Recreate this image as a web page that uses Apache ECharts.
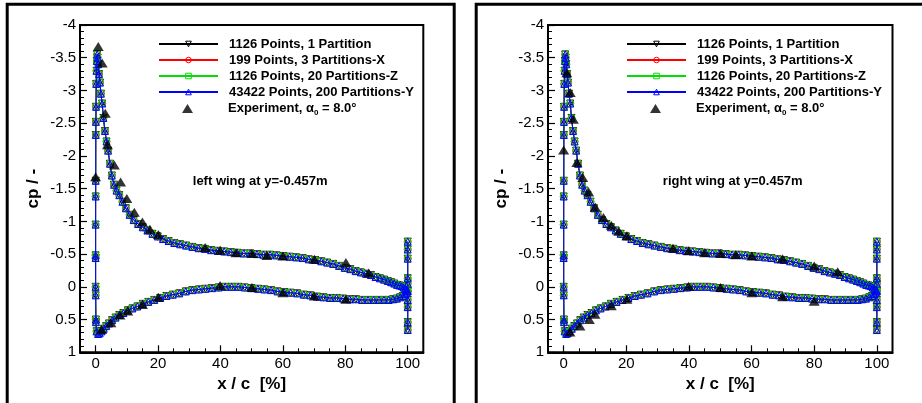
<!DOCTYPE html>
<html><head><meta charset="utf-8">
<script src="https://cdn.jsdelivr.net/npm/echarts@6/dist/echarts.min.js"></script>
<style>html,body{margin:0;padding:0;background:#fff}#c{width:922px;height:403px}</style>
</head><body><div id="c"></div><script>
// ---------- data ----------
const xTickLabels = [0, 20, 40, 60, 80, 100];
const xMinorTicks = [5, 10, 15, 25, 30, 35, 45, 50, 55, 65, 70, 75, 85, 90, 95];
const cfdNames = ['1126 Points, 1 Partition', '199 Points, 3 Partitions-X', '1126 Points, 20 Partitions-Z', '43422 Points, 200 Partitions-Y'];
const cfdColors = ['#000000', '#ff0000', '#00dd00', '#0000ff'];
const cfdSymbols = ['triangle', 'circle', 'rect', 'triangle'];
const cfdRotate = [180, 0, 0, 0];
const expName = 'Experiment';
const panelTitles = ['left wing at y=-0.457m', 'right wing at y=0.457m'];

// blunt trailing edge (x = 100), upper part
const teTopCp = [-0.69, -0.57, -0.43, -0.13, -0.05];
// upper surface, trailing edge -> leading edge
const upperX = [100, 99.6, 99.2, 98.7, 98.1, 97.4, 96.6, 95.7, 94.7, 93.6, 92.4, 91.1, 89.7, 88.2, 86.6, 85, 83.3, 81.6, 79.8, 78, 76.1, 74.2, 72.3, 70.3, 68.3, 66.3, 64.3, 62.2, 60.1, 58, 55.9, 53.8, 51.7, 49.6, 47.5, 45.4, 43.3, 41.2, 39.1, 37, 35, 33, 31, 29, 27.1, 25.2, 23.4, 21.6, 19.9, 18.2, 16.6, 15.1, 13.6, 12.2, 10.9, 9.7, 8.6, 7.6, 6.7, 5.9, 5.2, 4.6, 4.0, 3.5, 3.0, 2.5, 2.1, 1.7, 1.4, 1.1, 0.85, 0.65, 0.5, 0.38, 0.28, 0.2, 0.14, 0.09, 0.05, 0.03, 0.01, 0, 0, 0, 0];
const upperCp = [0.06, 0.04, 0.03, 0.01, -0.01, -0.02, -0.03, -0.05, -0.07, -0.09, -0.11, -0.13, -0.15, -0.18, -0.20, -0.22, -0.24, -0.27, -0.29, -0.32, -0.35, -0.37, -0.39, -0.41, -0.42, -0.44, -0.45, -0.46, -0.47, -0.48, -0.49, -0.49, -0.50, -0.51, -0.51, -0.52, -0.53, -0.54, -0.55, -0.56, -0.58, -0.59, -0.61, -0.63, -0.65, -0.67, -0.70, -0.73, -0.77, -0.81, -0.86, -0.91, -0.96, -1.02, -1.10, -1.20, -1.30, -1.40, -1.47, -1.56, -1.70, -1.88, -2.08, -2.22, -2.38, -2.58, -2.80, -2.95, -3.12, -3.25, -3.40, -3.50, -3.55, -3.45, -3.30, -3.10, -2.75, -2.52, -2.32, -1.62, -1.38, -0.95, -0.48, -0.44, 0.00];
// lower surface, leading edge -> trailing edge
const lowerX = [0.02, 0.08, 0.1, 0.3, 0.8, 1.3, 1.9, 2.6, 3.4, 4.3, 5.3, 6.4, 7.6, 8.9, 10.3, 11.8, 13.4, 15.1, 16.9, 18.8, 20.7, 22.7, 24.7, 26.8, 28.9, 31, 33.1, 35.2, 37.3, 39.4, 41.5, 43.6, 45.7, 47.8, 49.9, 52, 54.1, 56.2, 58.3, 60.4, 62.5, 64.6, 66.7, 68.8, 70.9, 73, 75.1, 77.2, 79.3, 81.4, 83.4, 85.4, 87.3, 89.1, 90.8, 92.4, 93.9, 95.3, 96.5, 97.6, 98.5, 99.2, 99.7, 100];
const lowerCp = [0.13, 0.50, 0.54, 0.68, 0.72, 0.71, 0.68, 0.64, 0.60, 0.56, 0.51, 0.47, 0.43, 0.40, 0.36, 0.33, 0.30, 0.26, 0.23, 0.20, 0.17, 0.14, 0.12, 0.10, 0.07, 0.05, 0.04, 0.03, 0.02, 0.01, 0.00, 0.00, 0.00, 0.01, 0.02, 0.03, 0.04, 0.05, 0.07, 0.08, 0.09, 0.10, 0.12, 0.13, 0.15, 0.16, 0.17, 0.17, 0.18, 0.19, 0.19, 0.20, 0.20, 0.20, 0.20, 0.20, 0.20, 0.19, 0.18, 0.16, 0.14, 0.11, 0.09, 0.07];
// blunt trailing edge (x = 100), lower part
const teBottomCp = [0.20, 0.31, 0.54, 0.66];

// experiment
const expLeftX = [0, 0.85, 2.1, 3.1, 3.8, 6.0, 8.0, 10.0, 12.4, 15.0, 17.4, 20.1, 35.1, 39.9, 45.0, 50.1, 54.9, 60.0, 70.1, 80.2, 87.5, 1.9, 4.9, 7.8, 10.3, 15.0, 20.1, 39.9, 50.1, 60.0, 70.1, 80.2];
const expLeftCp = [-1.68, -3.67, -3.42, -2.65, -2.17, -1.86, -1.60, -1.35, -1.14, -0.99, -0.88, -0.80, -0.60, -0.56, -0.52, -0.51, -0.48, -0.47, -0.42, -0.37, -0.21, 0.65, 0.55, 0.43, 0.37, 0.27, 0.16, -0.02, 0.01, 0.09, 0.14, 0.19];
const expRightX = [0, 1.0, 2.1, 3.1, 4.2, 6.1, 8.0, 10.1, 12.7, 15.2, 17.6, 20.2, 34.9, 39.9, 45.0, 50.1, 55.0, 60.1, 69.9, 80.0, 87.5, 2.0, 5.2, 8.2, 10.0, 15.2, 20.2, 39.9, 50.1, 60.1, 69.9, 80.0];
const expRightCp = [-2.09, -3.27, -2.97, -2.56, -1.90, -1.67, -1.45, -1.22, -1.06, -0.94, -0.85, -0.78, -0.59, -0.55, -0.52, -0.51, -0.49, -0.47, -0.43, -0.32, -0.23, 0.69, 0.60, 0.50, 0.42, 0.29, 0.19, -0.01, 0.01, 0.09, 0.15, 0.22];

// ---------- build ----------
const FONT = '"Liberation Sans", Arial, Helvetica, sans-serif';
const cfdData = []
  .concat(teTopCp.map(c => [100, c]))
  .concat(upperX.map((x, i) => [x, upperCp[i]]))
  .concat(lowerX.map((x, i) => [x, lowerCp[i]]))
  .concat(teBottomCp.map(c => [100, c]));
const expData = [
  expLeftX.map((x, i) => [x, expLeftCp[i]]),
  expRightX.map((x, i) => [x, expRightCp[i]])
];
const cfdSizes = [7, 7, 6, 7];

const gridRects = [
  {left: 80, top: 25, width: 343.3, height: 327.3},
  {left: 548, top: 25, width: 344.5, height: 327.3}
];
const grids = [], xAxes = [], yAxes = [], series = [], legends = [], graphics = [];

gridRects.forEach((g, p) => {
  grids.push(Object.assign({show: true, borderColor: '#000', borderWidth: 2, backgroundColor: 'transparent'}, g));
  xAxes.push({
    gridIndex: p, type: 'value', min: -5, max: 105,
    axisLine: {show: true, onZero: false, lineStyle: {color: '#000', width: 2}},
    axisTick: {show: true, inside: true, length: 7, customValues: xTickLabels, lineStyle: {color: '#000', width: 1.2}},
    axisLabel: {show: true, customValues: xTickLabels, margin: 4, fontSize: 15, color: '#000', fontFamily: FONT},
    splitLine: {show: false},
    name: 'x / c  [%]', nameLocation: 'middle', nameGap: 22,
    nameTextStyle: {fontSize: 17, fontWeight: 'bold', color: '#000', fontFamily: FONT}
  });
  yAxes.push({
    gridIndex: p, type: 'value', inverse: true, min: -4, max: 1, interval: 0.5,
    axisLine: {show: true, onZero: false, lineStyle: {color: '#000', width: 2}},
    axisTick: {show: true, inside: true, length: 7, lineStyle: {color: '#000', width: 1.2}},
    minorTick: {show: true, splitNumber: 5, length: 4, lineStyle: {color: '#000', width: 1}},
    axisLabel: {margin: 4, fontSize: 15, color: '#000', fontFamily: FONT},
    splitLine: {show: false},
    name: 'cp / -', nameLocation: 'middle', nameGap: 38, nameRotate: 90,
    nameTextStyle: {fontSize: 17, fontWeight: 'bold', color: '#000', fontFamily: FONT}
  });
});
// overlay grids for minor x ticks
gridRects.forEach((g, p) => {
  const gi = grids.length;
  grids.push(Object.assign({show: false}, g));
  xAxes.push({
    gridIndex: gi, type: 'value', min: -5, max: 105,
    axisLine: {show: false, onZero: false},
    axisTick: {show: true, inside: true, length: 4, customValues: xMinorTicks, lineStyle: {color: '#000', width: 1}},
    axisLabel: {show: false}, splitLine: {show: false}
  });
  yAxes.push({gridIndex: gi, type: 'value', inverse: true, min: -4, max: 1, show: false,
    axisLine: {onZero: false}});
});

gridRects.forEach((g, p) => {
  cfdNames.forEach((name, k) => {
    series.push({
      type: 'line', name: name, xAxisIndex: p, yAxisIndex: p,
      data: cfdData, symbol: cfdSymbols[k], symbolRotate: cfdRotate[k], symbolSize: cfdSizes[k],
      showSymbol: true, showAllSymbol: true, sampling: null,
      lineStyle: {color: cfdColors[k], width: 1},
      itemStyle: {color: 'rgba(255,255,255,0)', borderColor: cfdColors[k], borderWidth: 1},
      emphasis: {disabled: true}, animation: false, z: 2 + k
    });
  });
  series.push({
    type: 'scatter', name: expName, xAxisIndex: p, yAxisIndex: p,
    data: expData[p], symbol: 'triangle', symbolSize: [11, 9],
    itemStyle: {color: '#000'}, emphasis: {disabled: true}, animation: false, z: 10
  });
  const lx = g.left + 78;
  legends.push({
    orient: 'vertical', left: lx, top: 36, padding: 0, itemWidth: 59, itemHeight: 7, itemGap: 0,
    selectedMode: false,
    data: cfdNames.map((n, k) => ({name: n, itemStyle: {color: 'rgba(255,255,255,0)', borderColor: cfdColors[k], borderWidth: 1}})),
    textStyle: {fontSize: 13, fontWeight: 'bold', color: '#000', fontFamily: FONT, lineHeight: 16, padding: [0, 0, 0, 6]}
  });
  legends.push({
    orient: 'vertical', left: lx + 24, top: 102, padding: 0, itemWidth: 11, itemHeight: 9, itemGap: 0,
    selectedMode: false, data: [{name: expName, icon: 'triangle'}],
    formatter: () => '{a|Experiment, α}{s|0}{a| = 8.0°}',
    textStyle: {
      color: '#000', fontFamily: FONT, padding: [0, 0, 0, 30],
      rich: {
        a: {fontSize: 13, fontWeight: 'bold', color: '#000', fontFamily: FONT, lineHeight: 16},
        s: {fontSize: 8, fontWeight: 'bold', color: '#000', fontFamily: FONT, lineHeight: 16, verticalAlign: 'bottom'}
      }
    }
  });
  graphics.push({
    type: 'text', x: g.left + g.width / 2 + (p === 0 ? 8.5 : 12.5), y: 181, z: 20,
    style: {text: panelTitles[p], font: 'bold 13px ' + FONT, fill: '#000', align: 'center', verticalAlign: 'middle'}
  });
});
// outer panel frames
graphics.push({type: 'rect', z: -1, shape: {x: 7.2, y: 4.3, width: 447, height: 430}, style: {fill: 'none', stroke: '#000', lineWidth: 3}});
graphics.push({type: 'rect', z: -1, shape: {x: 476.2, y: 4.3, width: 460, height: 430}, style: {fill: 'none', stroke: '#000', lineWidth: 3}});

const chart = echarts.init(document.getElementById('c'), null, {renderer: 'canvas'});
chart.setOption({
  animation: false,
  backgroundColor: '#fff',
  grid: grids, xAxis: xAxes, yAxis: yAxes, series: series, legend: legends, graphic: graphics
});
</script></body></html>
